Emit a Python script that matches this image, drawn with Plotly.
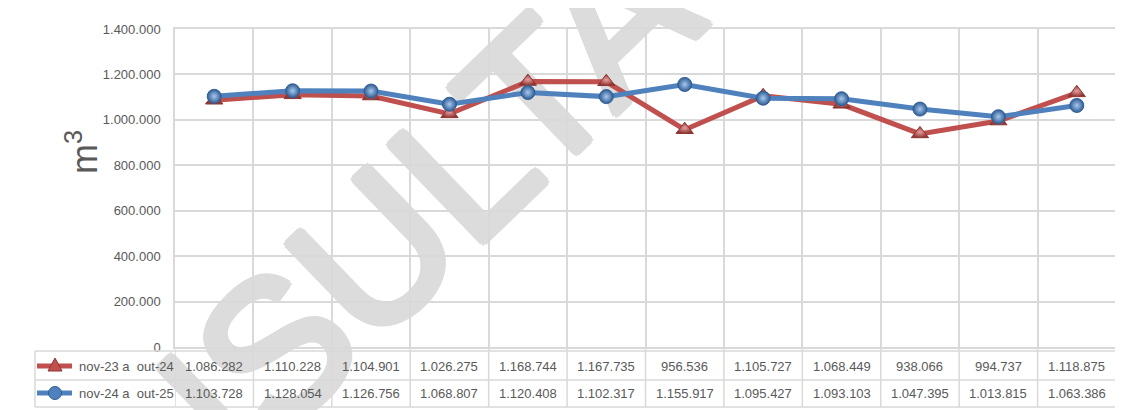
import plotly.graph_objects as go

# monthly volumes (m3), nov to oct
months = ["nov", "dez", "jan", "fev", "mar", "abr", "mai", "jun", "jul", "ago", "set", "out"]
vol_23_24 = [1086282, 1110228, 1104901, 1026275, 1168744, 1167735,
             956536, 1105727, 1068449, 938066, 994737, 1118875]
vol_24_25 = [1103728, 1128054, 1126756, 1068807, 1120408, 1102317,
             1155917, 1095427, 1093103, 1047395, 1013815, 1063386]
series_names = ["nov-23 a\u00a0 out-24", "nov-24 a\u00a0 out-25"]
y_ticks = [0, 200000, 400000, 600000, 800000, 1000000, 1200000, 1400000]

RED, RED_LIGHT, RED_DARK = "#C0504D", "#E8A09E", "#8E3533"
BLUE, BLUE_LIGHT, BLUE_DARK = "#4F81BD", "#A8C8EE", "#2F5D94"
GRID = "#D9D9D9"
TXT = "#595959"
WM = "#DCDCDC"
FONT = "Liberation Sans, Arial, sans-serif"

# page body has an 8px margin, so the figure is laid out in page pixels minus OFF
OFF = 8
W, H = 1123, 410
ML, MT = 175 - OFF, 29 - OFF
MR = W - (1116 - OFF)
MB = H - (347 - OFF)
PW, PH = W - ML - MR, H - MT - MB


def px_x(p):
    return (p - OFF - ML) / PW


def px_y(p):
    return (H - MB - (p - OFF)) / PH


def fmt(v):
    return f"{v:,}".replace(",", ".")


fig = go.Figure()

fig.add_trace(go.Scatter(
    x=months, y=vol_23_24, mode="lines+markers", name=series_names[0],
    line=dict(color=RED, width=5),
    marker=dict(symbol="triangle-up", size=15, color=RED_DARK,
                gradient=dict(type="radial", color=RED_LIGHT),
                line=dict(width=1, color=RED_DARK)),
    showlegend=False,
))
fig.add_trace(go.Scatter(
    x=months, y=vol_24_25, mode="lines+markers", name=series_names[1],
    line=dict(color=BLUE, width=5),
    marker=dict(symbol="circle", size=14, color=BLUE_DARK,
                gradient=dict(type="radial", color=BLUE_LIGHT),
                line=dict(width=1, color=BLUE_DARK)),
    showlegend=False,
))

shapes = []
annotations = []

# outer chart border
shapes.append(dict(type="rect", xref="paper", yref="paper", layer="below",
                   x0=px_x(7), x1=px_x(1118), y0=px_y(430), y1=px_y(7),
                   line=dict(color=GRID, width=1), fillcolor="rgba(0,0,0,0)"))

# watermark (thickened with a text shadow)
thick = ", ".join(f"{dx}px {dy}px 0 {WM}" for dx, dy in
                  [(4, 0), (-4, 0), (0, 4), (0, -4), (3, 3), (-3, 3), (3, -3), (-3, -3)])
shapes.append(dict(type="rect", xref="paper", yref="paper", layer="below",
                   x0=px_x(271), x1=px_x(281), y0=px_y(327), y1=px_y(317),
                   line=dict(width=0), fillcolor="rgba(0,0,0,0)",
                   label=dict(text="CONSULTA", textangle=-44, textposition="middle center",
                              font=dict(size=196, color=WM, family=FONT, shadow=thick))))

# data table grid
for yp in [351, 380, 407]:
    shapes.append(dict(type="line", xref="paper", yref="paper",
                       x0=px_x(35), x1=1, y0=px_y(yp), y1=px_y(yp),
                       line=dict(color=GRID, width=1.5)))
shapes.append(dict(type="line", xref="paper", yref="paper",
                   x0=px_x(35), x1=px_x(35), y0=px_y(351), y1=px_y(407),
                   line=dict(color=GRID, width=1.5)))
for i in range(len(months) + 1):
    shapes.append(dict(type="line", xref="x", yref="paper",
                       x0=i - 0.5, x1=i - 0.5, y0=0, y1=px_y(407),
                       line=dict(color=GRID, width=1.5)))

row_centers = [366, 393]
rows = [(vol_23_24, RED, RED_DARK), (vol_24_25, BLUE, BLUE_DARK)]
for (vals, col, dark), name, yc_px in zip(rows, series_names, row_centers):
    yc = px_y(yc_px)
    # legend key inside the table
    shapes.append(dict(type="line", xref="paper", yref="paper",
                       x0=px_x(37), x1=px_x(72), y0=yc, y1=yc,
                       line=dict(color=col, width=5)))
    if col == RED:
        shapes.append(dict(type="path", xref="paper", yref="paper",
                           xsizemode="pixel", ysizemode="pixel",
                           xanchor=px_x(55), yanchor=yc,
                           path="M -7,-5 L 7,-5 L 0,8 Z",
                           fillcolor=col, line=dict(color=dark, width=1)))
    else:
        shapes.append(dict(type="circle", xref="paper", yref="paper",
                           xsizemode="pixel", ysizemode="pixel",
                           xanchor=px_x(55), yanchor=yc,
                           x0=-6.5, x1=6.5, y0=-6.5, y1=6.5,
                           fillcolor=col, line=dict(color=dark, width=1)))
    annotations.append(dict(text=name, xref="paper", yref="paper",
                            x=px_x(77), y=yc, xanchor="left", yanchor="middle",
                            showarrow=False, font=dict(size=13, color=TXT, family=FONT)))
    for m, v in zip(months, vals):
        annotations.append(dict(text=fmt(v), xref="x", yref="paper",
                                x=m, y=yc, xanchor="center", yanchor="middle",
                                showarrow=False, font=dict(size=13, color=TXT, family=FONT)))

# y axis unit
annotations.append(dict(text="m<sup>3</sup>", xref="paper", yref="paper",
                        x=px_x(82), y=px_y(152), textangle=-90,
                        xanchor="center", yanchor="middle", showarrow=False,
                        font=dict(size=36, color=TXT, family=FONT)))

fig.update_layout(
    width=W, height=H,
    margin=dict(l=ML, r=MR, t=MT, b=MB),
    paper_bgcolor="white",
    plot_bgcolor="rgba(0,0,0,0)",
    separators=",.",
    showlegend=False,
    font=dict(family=FONT, color=TXT, size=13),
    xaxis=dict(type="category", tickson="boundaries", showgrid=True,
               gridcolor=GRID, gridwidth=1.5, showticklabels=False, ticks="",
               showline=True, linecolor=GRID, linewidth=1.5, mirror=True,
               zeroline=False, range=[-0.5, 11.5]),
    yaxis=dict(range=[0, 1400000], tickvals=y_ticks, tickformat=",d",
               showgrid=True, gridcolor=GRID, gridwidth=1.5, zeroline=False,
               showline=True, linecolor=GRID, linewidth=1.5, mirror=True,
               ticks="", ticklabelstandoff=10,
               tickfont=dict(size=13, color=TXT, family=FONT)),
    shapes=shapes,
    annotations=annotations,
)

fig.write_html("out.html")
